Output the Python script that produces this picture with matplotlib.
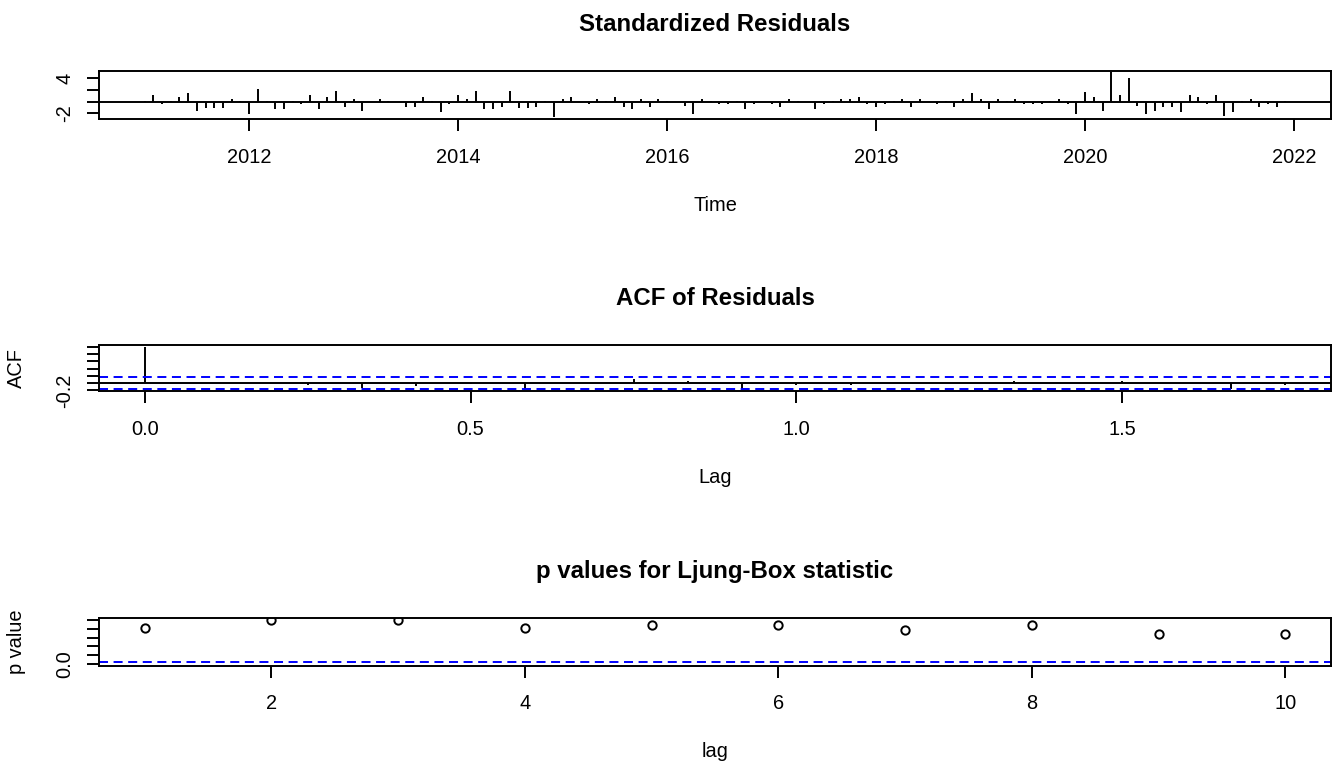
import numpy as np
import matplotlib.pyplot as plt

plt.rcParams['font.family'] = ['Liberation Sans', 'DejaVu Sans']
plt.rcParams['lines.scale_dashes'] = False

# standardized residuals, monthly from Jan 2011 to Dec 2021
start_year = 2011
freq = 12
std_resid = [
    0.05, 1.14, -0.46, 0.05, 0.74, 1.43, -1.54, -1.05, -1.14, -1.14, 0.40, 0.05,
    -2.17, 2.11, 0.05, -1.20, -1.20, 0.05, -0.46, 1.09, -1.20, 0.80, 1.77, -0.86,
    0.40, -1.54, -0.05, 0.40, 0.05, -0.05, -0.86, -0.86, 0.80, 0.05, -1.83, -0.46,
    1.09, 0.40, 1.77, -1.26, -1.26, -0.86, 1.77, -1.14, -1.14, -0.86, 0.05, -2.71,
    0.40, 0.74, -0.05, -0.46, 0.40, 0.05, 0.74, -0.86, -1.20, 0.40, -0.86, 0.40,
    0.05, -0.05, -0.80, -2.17, 0.40, 0.05, -0.46, -0.46, 0.05, -1.26, -0.46, -0.05,
    -0.46, -0.86, 0.40, 0.05, -0.05, -1.20, -0.46, 0.05, 0.40, 0.40, 0.74, -0.46,
    -0.86, -0.46, 0.05, 0.40, -0.86, 0.40, -0.05, -0.46, 0.05, -0.86, 0.40, 1.43,
    0.40, -1.20, 0.40, 0.05, 0.40, -0.46, -0.46, -0.46, 0.05, 0.40, -0.46, -2.17,
    1.71, 0.77, -1.54, 5.00, 1.09, 4.11, -0.80, -2.17, -1.54, -0.86, -0.86, -1.83,
    1.09, 0.74, -0.46, 1.09, -2.50, -1.83, 0.05, 0.40, -0.86, -0.46, -0.86, 0.05,
]
year_ticks = [2012, 2014, 2016, 2018, 2020, 2022]

# autocorrelation of residuals, lags 0..21 months
acf_lags = list(range(22))
acf_vals = [1.0, 0.01, -0.01, -0.05, -0.14, -0.07, -0.03, -0.16, 0.01, 0.11, 0.06,
            -0.16, -0.06, -0.055, 0.01, -0.01, 0.06, 0.01, 0.06, -0.01, -0.165, -0.06]
acf_ticks = [0.0, 0.5, 1.0, 1.5]

# Ljung-Box p values
lb_lags = list(range(1, 11))
lb_pvals = [0.82, 0.995, 0.995, 0.83, 0.88, 0.88, 0.77, 0.88, 0.69, 0.69]
lb_ticks = [2, 4, 6, 8, 10]

n = len(std_resid)
t = start_year + np.arange(n) / freq
clim = 1.96 / np.sqrt(n)


def padded(lo, hi, f=0.04):
    d = (hi - lo) * f
    return lo - d, hi + d


W, H = 1335, 763
fig = plt.figure(figsize=(W / 100, H / 100), dpi=100)


def panel(top, bottom):
    left, right = 99, 1331
    return fig.add_axes([left / W, 1 - bottom / H, (right - left) / W, (bottom - top) / H])


LW = 1.4
FS = 14.4
blue_dash = dict(color='blue', lw=LW, ls=(0, (6.5, 4)))


def style(ax, title, ylabels):
    for s in ax.spines.values():
        s.set_linewidth(LW)
    ax.tick_params(length=8.6, width=LW, labelsize=FS, direction='out')
    ax.tick_params(axis='x', pad=12)
    ax.tick_params(axis='y', pad=9)
    ax.set_yticklabels(ylabels, rotation=90, va='center')
    ax.set_title(title, fontsize=17.3, fontweight='bold', pad=28.8)


# standardized residuals
ax1 = panel(70.7, 119.3)
ax1.vlines(t, 0, std_resid, color='black', lw=LW)
ax1.axhline(0, color='black', lw=LW)
ax1.set_xlim(*padded(t[0], t[-1]))
ax1.set_ylim(*padded(min(std_resid), max(std_resid)))
ax1.set_xticks(year_ticks)
ax1.set_xticklabels([str(y) for y in year_ticks])
ax1.set_yticks([-2, 0, 2, 4])
style(ax1, 'Standardized Residuals', ['-2', '', '', '4'])
ax1.set_xlabel('Time', fontsize=FS, labelpad=21)

# ACF of residuals
ax2 = panel(345, 391)
lag_years = np.array(acf_lags) / freq
ax2.vlines(lag_years, 0, acf_vals, color='black', lw=LW)
ax2.axhline(0, color='black', lw=LW)
ax2.axhline(clim, **blue_dash)
ax2.axhline(-clim, **blue_dash)
ax2.set_xlim(*padded(lag_years[0], lag_years[-1]))
ax2.set_ylim(*padded(min(min(acf_vals), -clim), max(max(acf_vals), clim)))
ax2.set_xticks(acf_ticks)
ax2.set_xticklabels(['%.1f' % v for v in acf_ticks])
ax2.set_yticks([-0.2, 0.0, 0.2, 0.4, 0.6, 0.8, 1.0])
style(ax2, 'ACF of Residuals', ['-0.2', '', '', '', '', '', ''])
ax2.set_xlabel('Lag', fontsize=FS, labelpad=21)
ax2.set_ylabel('ACF', fontsize=FS, labelpad=21)

# Ljung-Box p values
ax3 = panel(618.3, 665.7)
ax3.plot(lb_lags, lb_pvals, 'o', mfc='none', mec='black', ms=6, mew=LW)
ax3.axhline(0.05, **blue_dash)
ax3.set_xlim(*padded(1, 10))
ax3.set_ylim(*padded(0, 1))
ax3.set_xticks(lb_ticks)
ax3.set_xticklabels([str(v) for v in lb_ticks])
ax3.set_yticks([0.0, 0.2, 0.4, 0.6, 0.8, 1.0])
style(ax3, 'p values for Ljung-Box statistic', ['0.0', '', '', '', '', ''])
ax3.set_xlabel('lag', fontsize=FS, labelpad=21)
ax3.set_ylabel('p value', fontsize=FS, labelpad=21)

fig.savefig('out.png', dpi=100)
